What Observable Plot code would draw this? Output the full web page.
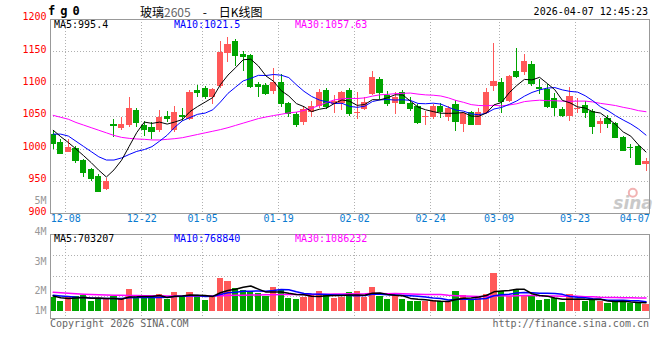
<!DOCTYPE html>
<html><head><meta charset="utf-8">
<script src="https://cdn.jsdelivr.net/npm/d3@7"></script>
<script src="https://cdn.jsdelivr.net/npm/@observablehq/plot@0.6"></script>
<style>
body{margin:0;background:#fff;}
#wrap{position:relative;width:660px;height:360px;overflow:hidden;font-family:"DejaVu Sans Mono",monospace;background:#fff;}
.t{position:absolute;white-space:pre;font-size:10px;line-height:10px;font-family:"DejaVu Sans Mono",monospace;}
#main,#vol{position:absolute;left:0;}
#main{top:0px}
#vol{top:190px}
</style></head><body>
<div id="wrap"><div id="main"></div><div id="vol"></div></div>
<script>
// ---- data ----
const openP=[1023,1010,995,1001,983,968,958,937,1038,1031,1037,1059,1037,1033,1028,1049.5,1029,1052,1046,1091,1093,1079,1096,1147,1166,1146,1144,1100,1098,1089,1103,1071,1054,1041,1056,1066,1091,1068,1071,1091,1055,1061,1084,1107,1083,1070,1088,1070,1065,1049,1048.5,1066,1048,1068,1038,1056,1037,1055,1097,1103,1074,1120,1118,1131,1095,1092,1078.5,1061,1051,1062.5,1067.5,1058.5,1038,1047.5,1039.5,1018,1002.6,1004,976];
const highP=[1027,1015,1015,1004,984,970,960,955,1045,1049,1079,1062,1042,1041,1059,1058.5,1066,1063,1091,1098,1097,1094,1166,1172,1169,1150,1146,1102,1101,1125,1115,1072,1056,1066,1074,1092,1093,1082,1089,1093,1087,1079,1120,1110,1089,1087,1090,1080,1068,1058.5,1069,1070,1066,1075,1056,1058,1062,1094,1163,1109.5,1113,1155.5,1146,1135,1107,1099.5,1086,1064,1094.5,1077.5,1073,1061,1047,1052,1040.5,1020,1006.5,1005,985.7];
const lowP=[1000,991,994,977,956,950,933,936,1018,1028,1034,1033,1020,1015,1025,1041,1025,1043,1044,1080,1076,1069,1094,1134,1128,1119,1094,1080,1082,1084,1064,1048,1034,1036,1049,1063,1061,1055,1059,1050,1046,1059,1082,1077,1065,1054,1068,1058,1038,1036,1046,1047,1043,1027,1025.5,1036,1036,1054,1089,1054.5,1072,1108.5,1114,1096,1084,1062.5,1051,1049,1043,1054.5,1047.5,1022,1023.5,1031,1015.5,997,985.7,976,965.8];
const closeP=[1009,993,1002,982,963,955,934,950,1037,1038,1062,1041,1030,1027,1048,1046.5,1057,1049.5,1088,1087,1081,1092,1149,1162,1144,1142.5,1096,1096.5,1085,1103,1070,1055,1038,1061,1065,1088,1065,1073,1088,1055,1056,1072,1110,1087,1071,1079,1070,1063,1041,1050,1065,1057.6,1062,1042.3,1055,1037.2,1056,1088,1104.6,1074,1112,1112,1135,1100.5,1094,1065,1063.5,1052.5,1081.6,1063,1056,1034.5,1043,1039,1017.3,998,1002.2,976.3,980];
const ma5=[1029,1019,1010,1000,989.8,979,967.2,956.8,967.8,982.8,1004.2,1025.6,1041.6,1039.6,1041.6,1038.5,1041.7,1045.6,1057.8,1065.6,1072.5,1079.5,1099.4,1114.2,1125.6,1137.9,1138.7,1128.2,1112.8,1104.6,1090.1,1081.9,1070.2,1065.4,1057.8,1061.4,1063.4,1070.4,1075.8,1073.8,1067.4,1068.8,1076.2,1076,1079.2,1083.8,1083.4,1074,1064.8,1060.6,1057.8,1055.3,1055.1,1055.4,1056.4,1050.8,1050.5,1055.7,1068.2,1072,1086.9,1098.1,1107.5,1106.7,1110.7,1101.3,1091.6,1075.1,1071.3,1065.1,1063.3,1057.5,1055.6,1047.1,1038,1026.4,1019.9,1006.6,995.4];
const ma10=[1023,1023,1020,1012,1004,996,988,983,983,986.3,991.6,996.4,999.2,1003.7,1012.2,1021.4,1033.7,1043.6,1048.7,1053.6,1055.5,1060.6,1072.5,1086,1095.6,1105.2,1109.1,1113.8,1113.5,1115.1,1114,1110.3,1099.2,1089.1,1081.2,1075.8,1072.7,1070.3,1070.6,1065.8,1064.4,1066.1,1073.3,1075.9,1076.5,1075.6,1076.1,1075.1,1070.4,1069.9,1070.8,1069.4,1064.6,1060.1,1058.5,1054.3,1052.9,1055.4,1061.8,1064.2,1068.9,1074.3,1081.6,1087.4,1091.3,1094.1,1094.9,1091.3,1089,1087.9,1082.3,1074.6,1065.4,1059.2,1051.5,1044.8,1038.7,1031.1,1021.5];
const ma30=[1052,1049,1046,1041,1037,1033,1029,1025,1021,1018,1016.5,1015.5,1015,1014,1014,1015,1016,1017.5,1020,1022.5,1025,1027.5,1030,1033,1036.5,1040,1043.5,1047,1049.5,1051.7,1053.7,1055.8,1057,1059.6,1063,1067.4,1071.8,1075.9,1077.6,1078.2,1078,1079,1081.7,1083.7,1084.4,1085.5,1086,1086.4,1084.8,1083.6,1083.1,1081.9,1079,1075,1072.1,1068.6,1067.2,1066.9,1067.6,1066.6,1068,1069.9,1073.2,1074.5,1075.4,1074.7,1074.6,1073.9,1073.7,1074,1074,1072.7,1070.5,1068.9,1067.1,1064.4,1062.2,1059.3,1057.63];
// volume, millions
const volume=[1.148,0.82,1.148,1.205,1.287,0.82,0.959,0.935,1.23,0.935,1.779,1.017,1.099,1.148,1.369,0.959,1.533,1.205,1.533,1.287,0.877,1.148,2.706,2.435,1.861,1.697,1.615,1.451,1.205,1.943,1.697,1.041,0.959,1.123,1.287,1.64,1.287,1.066,1.148,1.533,1.64,1.148,1.943,1.205,0.959,1.287,0.959,0.836,0.82,0.771,0.918,0.771,0.713,1.615,1.287,1.0,1.205,1.345,3.091,1.615,1.205,1.763,1.287,1.287,0.877,0.959,1.017,0.713,1.369,0.959,0.82,0.959,0.795,0.607,0.795,0.877,0.656,0.656,0.549];
const vma5=[1.25,1.1,1.05,1.08,1.122,1.056,1.084,1.041,1.046,0.976,1.168,1.179,1.212,1.196,1.282,1.118,1.222,1.243,1.32,1.303,1.287,1.21,1.51,1.691,1.805,1.969,2.063,1.812,1.566,1.582,1.582,1.467,1.369,1.353,1.221,1.21,1.259,1.281,1.286,1.335,1.335,1.307,1.482,1.494,1.379,1.308,1.271,1.049,0.972,0.935,0.861,0.823,0.799,0.958,1.061,1.077,1.164,1.29,1.586,1.651,1.692,1.804,1.792,1.431,1.284,1.235,1.085,0.971,0.987,1.003,0.976,0.964,0.98,0.828,0.795,0.807,0.746,0.718,0.703];
const vma10=[1.3,1.25,1.2,1.15,1.12,1.08,1.05,1.04,1.05,1.049,1.112,1.132,1.127,1.121,1.129,1.143,1.2,1.227,1.258,1.293,1.203,1.216,1.377,1.505,1.554,1.628,1.636,1.661,1.628,1.694,1.776,1.765,1.59,1.459,1.402,1.396,1.363,1.325,1.319,1.278,1.272,1.283,1.382,1.39,1.357,1.322,1.289,1.266,1.233,1.157,1.085,1.047,0.924,0.965,0.998,0.969,0.994,1.045,1.272,1.356,1.385,1.484,1.541,1.509,1.468,1.463,1.445,1.381,1.209,1.144,1.105,1.025,0.976,0.908,0.899,0.891,0.855,0.849,0.769];
const vma30=[1.56,1.52,1.48,1.44,1.4,1.37,1.35,1.33,1.31,1.3,1.29,1.28,1.27,1.26,1.26,1.25,1.25,1.25,1.25,1.25,1.25,1.25,1.27,1.29,1.3,1.31,1.32,1.33,1.34,1.345,1.363,1.371,1.365,1.362,1.362,1.389,1.4,1.404,1.402,1.422,1.417,1.421,1.449,1.451,1.438,1.449,1.43,1.417,1.393,1.376,1.378,1.365,1.299,1.271,1.252,1.229,1.215,1.212,1.275,1.264,1.247,1.271,1.282,1.288,1.274,1.251,1.242,1.231,1.238,1.219,1.191,1.185,1.147,1.127,1.122,1.108,1.098,1.092,1.086];
const tickIdx=[2,12,20,30,40,50,59,69,78];
const tickLabels=["12-08","12-22","01-05","01-19","02-02","02-24","03-09","03-23","04-07"];
const priceTicks=[900,950,1000,1050,1100,1150,1200];
const priceGrid=[950,1000,1050,1100,1150];
const volTickLabels=["5M","4M","3M","2M","1M"];
const volTickAt=[9.08,6.54,4.08,1.70,0.06];
const volGrid=[4.54,2.87,1.21];
const priceLegend=["MA5:995.4","MA10:1021.5","MA30:1057.63"];
const volLegend=["MA5:703207","MA10:768840","MA30:1086232"];
const maColors=["#000000","#0000ff","#ff00ff"];
const symbol="fg0";
const titleParts=["玻璃","2605","　-　日K线图"];
const stamp="2026-04-07 12:45:23";
const footer=["Copyright 2026 SINA.COM","http://finance.sina.com.cn"];

// ---- build ----
const RED="#ff5858", GREEN="#00a400", GRID="#b0b0b0", FRAME="#999999", XLAB="#0a7bd0";
const n=closeP.length;
const bars=closeP.map((c,i)=>({i,o:openP[i],h:highP[i],l:lowP[i],c,v:volume[i],
  ma5:ma5[i],ma10:ma10[i],ma30:ma30[i],vma5:vma5[i],vma10:vma10[i],vma30:vma30[i],
  col:c>=openP[i]?RED:GREEN}));
const ticks=tickIdx.map((i,k)=>({i,label:tickLabels[k]}));
const half=0.395, gOff=0.34;
const xOpt={type:"linear",domain:[-0.355,n-0.5],axis:null};
const common={width:660,marginLeft:50,marginRight:10.7,
  style:{background:"transparent",overflow:"visible",fontFamily:"DejaVu Sans Mono, monospace",fontSize:"10px"},
  color:{type:"identity"}};
const ce={shapeRendering:"crispEdges"};

const main=Plot.plot({...common,height:230,marginTop:19,marginBottom:16.7,
  x:xOpt,y:{domain:[900,1200],axis:null},
  marks:[
    Plot.ruleY(priceGrid,{y:d=>d,stroke:GRID,strokeDasharray:"1,2",...ce}),
    Plot.ruleX(ticks.slice(0,-1),{x:d=>d.i-gOff,stroke:GRID,strokeDasharray:"1,2",...ce}),
    Plot.text(["sina"],{frameAnchor:"bottom-right",dx:3,dy:-5,textAnchor:"end",lineAnchor:"bottom",fontSize:17,fontWeight:"bold",fontStyle:"italic",fill:"#c9c9c9",fontFamily:"DejaVu Sans"}),
    Plot.dot([0],{frameAnchor:"bottom-right",dx:-17,dy:-21,r:4,stroke:"#f2b3b3",strokeWidth:2,fill:"none"}),
    Plot.ruleX(bars,{x:"i",y1:"l",y2:"h",stroke:"col",...ce}),
    Plot.rect(bars,{x1:d=>d.i-half,x2:d=>d.i+half,y1:"o",y2:"c",fill:"col",...ce}),
    Plot.ruleY(bars,{y:"c",x1:d=>d.i-half,x2:d=>d.i+half,stroke:"col",...ce}),
    Plot.line(bars,{x:"i",y:"ma30",stroke:maColors[2],strokeWidth:1}),
    Plot.line(bars,{x:"i",y:"ma10",stroke:maColors[1],strokeWidth:1}),
    Plot.line(bars,{x:"i",y:"ma5",stroke:maColors[0],strokeWidth:1}),
    Plot.frame({stroke:FRAME,...ce}),
    Plot.text(priceTicks,{y:d=>d,text:d=>String(d),frameAnchor:"left",dx:-4,dy:-2.5,textAnchor:"end",fill:"#ff0000",fontSize:10}),
    Plot.text(ticks.slice(0,-1),{x:d=>d.i-gOff,text:"label",frameAnchor:"bottom",dy:8.2,fill:XLAB,fontSize:10}),
    Plot.text(ticks.slice(-1),{text:"label",frameAnchor:"bottom-right",textAnchor:"end",dy:8.2,fill:XLAB,fontSize:10})
  ]});
document.getElementById("main").append(main);

const vol=Plot.plot({...common,height:140,marginTop:44.3,marginBottom:11.7,
  x:xOpt,y:{domain:[-0.623,6.265],axis:null},
  marks:[
    Plot.ruleY(volGrid,{y:d=>d,stroke:GRID,strokeDasharray:"1,2",...ce}),
    Plot.ruleX(ticks.slice(0,-1),{x:d=>d.i-gOff,stroke:GRID,strokeDasharray:"1,2",...ce}),
    Plot.rect(bars,{x1:d=>d.i-half,x2:d=>d.i+half,y1:0,y2:"v",fill:"col",...ce}),
    Plot.line(bars,{x:"i",y:"vma30",stroke:maColors[2]}),
    Plot.line(bars,{x:"i",y:"vma10",stroke:maColors[1]}),
    Plot.line(bars,{x:"i",y:"vma5",stroke:maColors[0]}),
    Plot.frame({stroke:FRAME,...ce}),
    Plot.text(volTickLabels,{y:(d,k)=>volTickAt[k],text:d=>d,frameAnchor:"left",dx:-4,textAnchor:"end",fill:"#999",fontSize:10})
  ]});
document.getElementById("vol").append(vol);

// ---- texts ----
const wrap=document.getElementById("wrap");
function addText(txt,css){const d=document.createElement("div");d.className="t";d.textContent=txt;Object.assign(d.style,css);wrap.append(d);return d;}
addText(symbol,{left:"48px",top:"4.5px",fontWeight:"bold",fontSize:"12px",lineHeight:"12px",letterSpacing:"5px"});
const tt=document.createElement("div");tt.className="t";
Object.assign(tt.style,{left:"140px",top:"4.5px",fontSize:"12px",lineHeight:"14px",fontFamily:"'Noto Sans CJK SC',sans-serif"});
tt.innerHTML=titleParts[0]+'<span style="color:#666">'+titleParts[1]+'</span>'+titleParts[2];
wrap.append(tt);
addText(stamp,{right:"12px",top:"7.2px"});
const legLeft=[54,174,295];
priceLegend.forEach((s,k)=>addText(s,{left:legLeft[k]+"px",top:"19.5px",color:maColors[k]}));
volLegend.forEach((s,k)=>addText(s,{left:legLeft[k]+"px",top:"233.5px",color:maColors[k]}));
addText(footer[0],{left:"50px",top:"319px",color:"#666"});
addText(footer[1],{right:"11px",top:"319px",color:"#666"});
</script>
</body></html>
